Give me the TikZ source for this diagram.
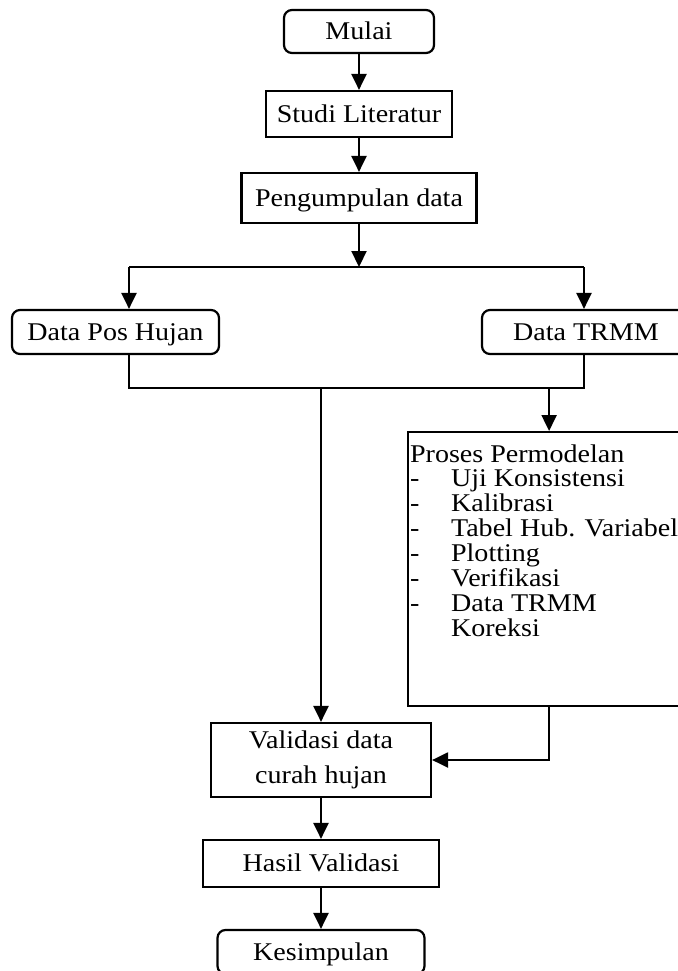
\documentclass[tikz,border=0pt]{standalone}
\usepackage{fontspec}
\setmainfont{Liberation Serif}[FakeStretch=1.1]
\usetikzlibrary{arrows.meta}

\begin{document}
\begin{tikzpicture}[x=0.5pt,y=-0.5pt,line width=1.1pt,>={Triangle[length=8pt,width=7.5pt]},
  kotak/.style={draw,rectangle,inner sep=1pt,align=center,font=\fontsize{12.75}{17.5}\selectfont},
  satu/.style={text height=10.4pt,text depth=2pt},
  bulat/.style={kotak,satu,rounded corners=4pt}]
\useasboundingbox (0,0) rectangle (678,971);
\node[bulat,minimum width=75pt,minimum height=21.5pt] (mulai) at (359,31.5) {Mulai};
\node[kotak,satu,minimum width=93pt,minimum height=23pt] (studi) at (359,114) {Studi Literatur};
\node[kotak,satu,minimum width=117.5pt,minimum height=25pt] (kumpul) at (359,198) {Pengumpulan data};
\node[bulat,minimum width=103.5pt,minimum height=22pt] (pos) at (115.5,332) {Data Pos Hujan};
\node[bulat,minimum width=104pt,minimum height=22pt] (trmm) at (586,332) {Data TRMM};
\node[draw,rectangle,minimum width=141pt,minimum height=137pt,anchor=north west] (proses) at (407,431) {};
\node[anchor=base west,inner sep=0pt,xshift=1pt,yshift=-15.5pt,font=\fontsize{12.75}{12.2}\selectfont] (prosesisi) at (proses.north west) {%
  \begin{tabular}[t]{@{}p{20.5pt}@{}l@{}}
  \multicolumn{2}{@{}l@{}}{Proses Permodelan}\\
  -&Uji Konsistensi\\
  -&Kalibrasi\\
  -&Tabel Hub. Variabel\\
  -&Plotting\\
  -&Verifikasi\\
  -&Data TRMM\\
  &Koreksi
  \end{tabular}};
\node[kotak,minimum width=110pt,minimum height=37pt] (valid) at (321,760) {Validasi data\\curah hujan};
\node[kotak,satu,minimum width=118pt,minimum height=23.5pt] (hasil) at (321,863.5) {Hasil Validasi};
\node[bulat,minimum width=103.5pt,minimum height=22pt] (simpul) at (321,952) {Kesimpulan};

\coordinate (bagi) at (359,267);
\coordinate (bagikiri) at (129,267);
\coordinate (bagikanan) at (584,267);
\coordinate (gabung) at (321,388);

\draw[->] (mulai) -- (studi);
\draw[->] (studi) -- (kumpul);
\draw[->] (kumpul) -- (bagi);
\draw (bagikiri) -- (bagikanan);
\draw[->] (bagikiri) -- (bagikiri |- pos.north);
\draw[->] (bagikanan) -- (bagikanan |- trmm.north);
\draw (bagikiri |- pos.south) -- (bagikiri |- gabung) -- (bagikanan |- gabung) -- (bagikanan |- trmm.south);
\draw[->] (gabung) -- (valid);
\draw[->] (proses.north |- gabung) -- (proses);
\draw[->] (proses.south) |- (valid.east);
\draw[->] (valid) -- (hasil);
\draw[->] (hasil) -- (simpul);
\end{tikzpicture}
\end{document}
